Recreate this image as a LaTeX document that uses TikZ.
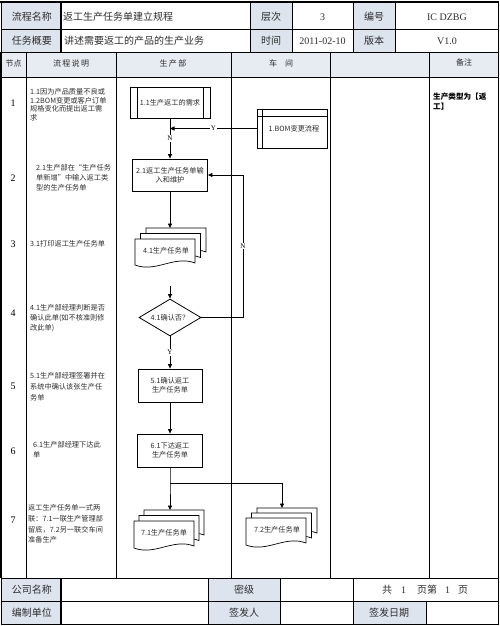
\documentclass[tikz,border=0pt]{standalone}
\usepackage{fontspec}
\setmainfont{Liberation Serif}
\newfontfamily\cjk{Noto Sans CJK SC}
\usetikzlibrary{arrows.meta,shapes.geometric}
\definecolor{labbg}{RGB}{221,228,238}
\definecolor{hdbg}{RGB}{231,235,242}
\definecolor{txt}{RGB}{45,45,45}
\newcommand\docsh[4]{%
  \draw[line width=0.7pt, fill=white] (#1,#2) -- ({#1+#3},#2) -- ({#1+#3},{#2+#4-2})
    .. controls ({#1+0.65*#3},{#2+#4-10}) and ({#1+0.35*#3},{#2+#4+8}) .. (#1,{#2+#4}) -- cycle;}
\tikzset{
  cell/.style={inner sep=0, font=\cjk\fontsize{10}{12}\selectfont, text=txt},
  lat/.style={inner sep=0, font=\fontsize{10}{12}\selectfont, text=txt},
  hd/.style={inner sep=0, font=\cjk\fontsize{8}{10}\selectfont, text=txt},
  desc/.style={inner sep=0, anchor=north west, align=left, font=\cjk\fontsize{7.2}{10}\selectfont, text=txt},
  num/.style={inner sep=0, font=\fontsize{10}{12}\selectfont},
  flow/.style={line width=0.8pt},
  proc/.style={draw, flow, fill=white, inner sep=1pt, align=center, font=\cjk\fontsize{7.2}{9}\selectfont, text=txt},
  dia/.style={diamond, draw, flow, fill=white, aspect=1.68, minimum width=62pt, minimum height=37pt, inner sep=0, font=\cjk\fontsize{7.2}{9}\selectfont, text=txt},
  dtxt/.style={inner sep=0, font=\cjk\fontsize{7.2}{9}\selectfont, text=txt},
  arr/.style={flow, -{Triangle[length=4.5pt,width=4pt]}},
  lbl/.style={fill=white, inner sep=0.8pt, font=\fontsize{7}{8}\selectfont},
  tline/.style={line width=0.8pt},
  tthick/.style={line width=1.6pt}
}
\begin{document}
\begin{tikzpicture}[x=1pt,y=-1pt]
\useasboundingbox (0,0) rectangle (499,626);
% ---------- header table ----------
\fill[labbg] (2,3) rectangle (61,29);
\fill[labbg] (2,29) rectangle (61,52);
\fill[labbg] (250,3) rectangle (292,29);
\fill[labbg] (250,29) rectangle (292,52);
\fill[labbg] (353,3) rectangle (395,29);
\fill[labbg] (353,29) rectangle (395,52);
\draw[tline] (1,2) rectangle (498.5,52);
\draw[tthick] (0,2) -- (499,2);
\draw[tline] (1,29) -- (498.5,29);
\draw[tthick] (61,2) -- (61,52);
\foreach \xx in {250,292,353,395} \draw[tline] (\xx,2) -- (\xx,52);
\node[cell] (h11) at (32,17) {流程名称};
\node[cell, anchor=west] (h12) at (63,17) {返工生产任务单建立规程};
\node[cell] (h13) at (271,17) {层次};
\node[lat] (h14) at (322.5,17) {3};
\node[cell] (h15) at (374,17) {编号};
\node[lat] (h16) at (447,17) {IC\ DZBG};
\node[cell] (h21) at (32,41) {任务概要};
\node[cell, anchor=west] (h22) at (64,41) {讲述需要返工的产品的生产业务};
\node[cell] (h23) at (271,41) {时间};
\node[lat] (h24) at (322.5,41) {2011-02-10};
\node[cell] (h25) at (374,41) {版本};
\node[lat] (h26) at (447,41) {V1.0};
% ---------- main table ----------
\fill[hdbg] (1,52) rectangle (498,77);
\draw[tline] (1,52) rectangle (498,578);
\draw[tthick] (1,52) -- (1,578);
\draw[tline] (1,77) -- (498,77);
\foreach \xx in {26,116,231,330,429} \draw[tline] (\xx,52) -- (\xx,578);
\node[hd] (c1) at (13.5,63) {节点};
\node[hd] (c2) at (71,63) {流\,程\,说\,明};
\node[hd] (c3) at (173,63) {生\,产\,部};
\node[hd] (c4) at (281,63) {车\hspace{8pt}间};
\node[hd] (c6) at (464,62) {备注};
% node numbers
\node[num] (n1) at (13,103) {1};
\node[num] (n2) at (13,178) {2};
\node[num] (n3) at (13,244) {3};
\node[num] (n4) at (13,313) {4};
\node[num] (n5) at (13,386) {5};
\node[num] (n6) at (13,451) {6};
\node[num] (n7) at (13,520) {7};
% descriptions
\node[desc, font=\cjk\fontsize{7.2}{8.5}\selectfont] (e1) at (30,88.5) {1.1因为产品质量不良或\\1.2BOM变更或客户订单\\规格变化而提出返工需\\求};
\node[desc] (e2) at (36,164.5) {2.1生产部在“生产任务\\单新增”中输入返工类\\型的生产任务单};
\node[desc] (e3) at (30,240.5) {3.1打印返工生产任务单};
\node[desc] (e4) at (30,304.5) {4.1生产部经理判断是否\\确认此单(如不核准则修\\改此单)};
\node[desc, font=\cjk\fontsize{7.2}{11}\selectfont] (e5) at (30,372.5) {5.1生产部经理签署并在\\系统中确认该张生产任\\务单};
\node[desc] (e6) at (33,441.5) {6.1生产部经理下达此\\单};
\node[desc, font=\cjk\fontsize{7.2}{10.7}\selectfont] (e7) at (28,504.5) {返工生产任务单一式两\\联：7.1一联生产管理部\\留底，7.2另一联交车间\\准备生产};
% remark
\node[desc, font=\cjk\bfseries\fontsize{7.6}{10}\selectfont, text=black] (rm) at (433,93) {生产类型为【返\\工】};
% ---------- flow shapes ----------
\node[proc, minimum width=80pt, minimum height=31pt] (b11) at (170,102.5) {1.1生产返工的需求};
\draw[flow] ([xshift=8pt]b11.north west) -- ([xshift=8pt]b11.south west);
\draw[flow] ([xshift=-7pt]b11.north east) -- ([xshift=-7pt]b11.south east);
\node[proc, minimum width=70pt, minimum height=39pt] (bom) at (292,128.5) {\hspace{4pt}1.BOM变更流程};
\draw[flow] ([xshift=6pt]bom.north west) -- ([xshift=6pt]bom.south west);
\draw[flow] ([yshift=-8pt]bom.north west) -- ([yshift=-8pt]bom.north east);
\node[proc, minimum width=75pt, minimum height=32pt] (b21) at (170,175) {2.1返工生产任务单输\\入和维护};
% doc 4.1
\docsh{146}{228}{60}{26}
\docsh{140.5}{233.5}{60}{26}
\docsh{135}{239}{60}{26}
\node[dtxt] (d41) at (166,251) {4.1生产任务单};
\coordinate (d41top) at (170,228);
\coordinate (d41out) at (170,286);
\node[dia] (dec) at (170,317.5) {4.1确认否？};
\node[proc, minimum width=64pt, minimum height=33pt] (b51) at (170,385.5) {5.1确认返工\\生产任务单};
\node[proc, minimum width=65pt, minimum height=33pt] (b61) at (170,450.5) {6.1下达返工\\生产任务单};
% doc 7.1
\docsh{144}{510}{60}{27}
\docsh{139}{515.5}{60}{27}
\docsh{134}{521}{60}{27}
\node[dtxt] (d71) at (164,533) {7.1生产任务单};
\coordinate (d71top) at (170,510);
% doc 7.2
\docsh{257}{508}{60}{27}
\docsh{251.5}{513}{60}{27}
\docsh{246}{518}{60}{27}
\node[dtxt] (d72) at (277,530) {7.2生产任务单};
\coordinate (d72top) at (282,508);
% ---------- connectors ----------
\draw[arr] (b11.south) -- node[lbl]{N} (b21.north);
\draw[arr] (bom.west) -- node[lbl]{Y} (bom.west -| b11.south);
\draw[arr] (b21.south) -- (d41top);
\draw[arr] (d41out) -- (dec.north);
\draw[arr] (dec.south) -- node[lbl]{Y} (b51.north);
\draw[arr] (b51.south) -- (b61.north);
\coordinate (split) at (170,483);
\draw[arr] (b61.south) -- (split) -- (d71top);
\draw[arr] (split) -- (split -| d72top) -- (d72top);
\coordinate (nr) at (243,317.5);
\draw[arr] (dec.east) -- (nr) -- node[lbl]{N} (nr |- b21.east) -- (b21.east);
% ---------- footer ----------
\fill[labbg] (2,579) rectangle (61,601);
\fill[labbg] (2,601) rectangle (61,624);
\fill[labbg] (208,579) rectangle (280,601);
\fill[labbg] (208,601) rectangle (280,624);
\fill[labbg] (353,601) rectangle (426,624);
\draw[tline] (1,578) rectangle (498.5,624.5);
\draw[tline] (1,601) -- (498.5,601);
\draw[tthick] (61,578) -- (61,624.5);
\foreach \xx in {208,280,353} \draw[tline] (\xx,578) -- (\xx,624.5);
\draw[tline] (426,601) -- (426,624.5);
\node[cell] (f11) at (32,590) {公司名称};
\node[cell] (f12) at (244,590) {密级};
\node[cell, anchor=west] (f13) at (382,590) {共\hspace{9pt}{\fontspec{Liberation Serif}1}\hspace{11pt}页第\hspace{8pt}{\fontspec{Liberation Serif}1}\hspace{8pt}页};
\node[cell] (f21) at (32,613) {编制单位};
\node[cell] (f22) at (244,613) {签发人};
\node[cell] (f23) at (389,613) {签发日期};
\end{tikzpicture}
\end{document}
